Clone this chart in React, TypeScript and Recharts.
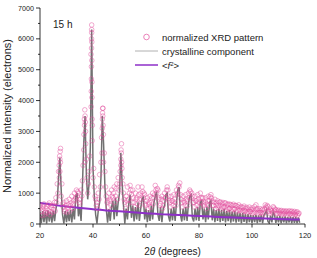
import React from 'react';
import { ComposedChart, Line, Scatter, XAxis, YAxis } from 'recharts';

// 2θ (deg), intensity — crystalline component (gray line)
const crystalline: [number, number][] = [
  [20, 380], [20.5, 30], [21, 420], [21.5, 60], [22, 400], [22.5, 20], [23, 440], [23.5, 80],
  [24, 390], [24.5, 40], [25, 430], [25.5, 90], [26, 480], [26.5, 700], [27, 1500], [27.5, 2150],
  [28, 1100], [28.5, 300], [29, 20], [29.5, 420], [30, 60], [30.5, 400], [31, 90], [31.5, 450],
  [32, 50], [32.5, 500], [33, 150], [33.5, 900], [34, 1000], [34.5, 250], [35, 550], [35.5, 100],
  [36, 1200], [36.5, 2600], [37, 3500], [37.5, 1600], [38, 800], [38.5, 1300], [39, 2500], [39.5, 6300],
  [40, 1800], [40.5, 900], [41, 300], [41.5, 20], [42, 450], [42.5, 700], [43, 1500], [43.5, 3500],
  [44, 2600], [44.5, 1200], [45, 500], [45.5, 40], [46, 480], [46.5, 100], [47, 550], [47.5, 750],
  [48, 150], [48.5, 850], [49, 250], [49.5, 700], [50, 1000], [50.5, 2300], [51, 1300], [51.5, 600],
  [52, 20], [52.5, 500], [53, 150], [53.5, 650], [54, 950], [54.5, 200], [55, 600], [55.5, 80],
  [56, 550], [56.5, 150], [57, 700], [57.5, 100], [58, 500], [58.5, 800], [59, 900], [59.5, 150],
  [60, 500], [60.5, 60], [61, 450], [61.5, 100], [62, 600], [62.5, 150], [63, 700], [63.5, 900],
  [64, 1050], [64.5, 300], [65, 100], [65.5, 550], [66, 60], [66.5, 500], [67, 600], [67.5, 950],
  [68, 1000], [68.5, 250], [69, 80], [69.5, 500], [70, 120], [70.5, 550], [71, 100], [71.5, 700],
  [72, 1100], [72.5, 1200], [73, 300], [73.5, 80], [74, 500], [74.5, 120], [75, 550], [75.5, 100],
  [76, 650], [76.5, 900], [77, 950], [77.5, 200], [78, 80], [78.5, 500], [79, 120], [79.5, 550],
  [80, 100], [80.5, 700], [81, 750], [81.5, 150], [82, 500], [82.5, 60], [83, 550], [83.5, 150],
  [84, 700], [84.5, 750], [85, 120], [85.5, 500], [86, 60], [86.5, 450], [87, 100], [87.5, 500],
  [88, 60], [88.5, 450], [89, 100], [89.5, 480], [90, 50], [90.5, 420], [91, 90], [91.5, 450],
  [92, 40], [92.5, 400], [93, 80], [93.5, 420], [94, 40], [94.5, 380], [95, 80], [95.5, 350],
  [96, 30], [96.5, 360], [97, 70], [97.5, 330], [98, 30], [98.5, 320], [99, 60], [99.5, 300],
  [100, 30], [100.5, 290], [101, 60], [101.5, 300], [102, 30], [102.5, 280], [103, 60], [103.5, 300],
  [104, 30], [104.5, 280], [105, 350], [105.5, 450], [106, 80], [106.5, 30], [107, 270], [107.5, 50],
  [108, 380], [108.5, 300], [109, 40], [109.5, 250], [110, 50], [110.5, 260], [111, 30], [111.5, 240],
  [112, 50], [112.5, 250], [113, 30], [113.5, 230], [114, 50], [114.5, 240], [115, 30], [115.5, 230],
  [116, 40], [116.5, 220], [117, 30], [117.5, 210], [118, 40],
];

// normalized XRD pattern (pink circles), first pass
const observed: [number, number][] = [
  [20.25, 520], [20.75, 280], [21.25, 560], [21.75, 300], [22.25, 500], [22.75, 360], [23.25, 620], [23.75, 300],
  [24.25, 540], [24.75, 380], [25.25, 600], [25.75, 420], [26.25, 700], [26.75, 1000], [27.25, 1900], [27.75, 2450],
  [28.25, 1300], [28.75, 550], [29.25, 400], [29.75, 600], [30.25, 380], [30.75, 620], [31.25, 420], [31.75, 680],
  [32.25, 500], [32.75, 750], [33.25, 800], [33.75, 1100], [34.25, 1050], [34.75, 700], [35.25, 800], [35.75, 900],
  [36.25, 1900], [36.75, 3400], [37.25, 2600], [37.75, 1500], [38.25, 1300], [38.75, 2200], [39.25, 5500], [39.75, 3200],
  [40.25, 1800], [40.75, 900], [41.25, 600], [41.75, 500], [42.25, 800], [42.75, 1200], [43.25, 2800], [43.75, 3750],
  [44.25, 2300], [44.75, 1200], [45.25, 700], [45.75, 550], [46.25, 750], [46.75, 600], [47.25, 900], [47.75, 1000],
  [48.25, 700], [48.75, 1150], [49.25, 800], [49.75, 1100], [50.25, 1700], [50.75, 2600], [51.25, 1300], [51.75, 800],
  [52.25, 500], [52.75, 750], [53.25, 650], [53.75, 1000], [54.25, 1100], [54.75, 700], [55.25, 850], [55.75, 550],
  [56.25, 800], [56.75, 650], [57.25, 950], [57.75, 600], [58.25, 800], [58.75, 1050], [59.25, 1000], [59.75, 650],
  [60.25, 750], [60.75, 500], [61.25, 700], [61.75, 550], [62.25, 850], [62.75, 650], [63.25, 950], [63.75, 1100],
  [64.25, 1150], [64.75, 800], [65.25, 600], [65.75, 800], [66.25, 500], [66.75, 750], [67.25, 850], [67.75, 1100],
  [68.25, 1100], [68.75, 750], [69.25, 550], [69.75, 750], [70.25, 600], [70.75, 800], [71.25, 600], [71.75, 950],
  [72.25, 1250], [72.75, 1330], [73.25, 800], [73.75, 550], [74.25, 750], [74.75, 600], [75.25, 800], [75.75, 600],
  [76.25, 850], [76.75, 1050], [77.25, 1000], [77.75, 700], [78.25, 550], [78.75, 750], [79.25, 600], [79.75, 800],
  [80.25, 550], [80.75, 850], [81.25, 840], [81.75, 650], [82.25, 700], [82.75, 500], [83.25, 750], [83.75, 600],
  [84.25, 880], [84.75, 840], [85.25, 600], [85.75, 700], [86.25, 500], [86.75, 680], [87.25, 520], [87.75, 700],
  [88.25, 480], [88.75, 650], [89.25, 520], [89.75, 680], [90.25, 450], [90.75, 620], [91.25, 480], [91.75, 640],
  [92.25, 420], [92.75, 600], [93.25, 470], [93.75, 600], [94.25, 400], [94.75, 560], [95.25, 450], [95.75, 540],
  [96.25, 380], [96.75, 530], [97.25, 420], [97.75, 500], [98.25, 350], [98.75, 480], [99.25, 400], [99.75, 470],
  [100.25, 340], [100.75, 460], [101.25, 380], [101.75, 470], [102.25, 330], [102.75, 440], [103.25, 370], [103.75, 450],
  [104.25, 320], [104.75, 480], [105.25, 550], [105.75, 600], [106.25, 420], [106.75, 340], [107.25, 430], [107.75, 360],
  [108.25, 520], [108.75, 480], [109.25, 330], [109.75, 420], [110.25, 340], [110.75, 420], [111.25, 300], [111.75, 400],
  [112.25, 330], [112.75, 410], [113.25, 290], [113.75, 390], [114.25, 320], [114.75, 400], [115.25, 280], [115.75, 380],
  [116.25, 300], [116.75, 370], [117.25, 280], [117.75, 350],
];

// normalized XRD pattern, in-between points
const observedMid: [number, number][] = [
  [20, 600], [20.5, 420], [21, 480], [21.5, 650], [22, 380], [22.5, 560], [23, 450], [23.5, 680],
  [24, 400], [24.5, 600], [25, 470], [25.5, 700], [26, 850], [26.5, 1300], [27, 1700], [27.5, 2100],
  [28, 900], [28.5, 650], [29, 700], [29.5, 450], [30, 750], [30.5, 520], [31, 800], [31.5, 600],
  [32, 900], [32.5, 650], [33, 1000], [33.5, 850], [34, 900], [34.5, 1000], [35, 650], [35.5, 1100],
  [36, 1400], [36.5, 2400], [37, 2000], [37.5, 2100], [38, 1000], [38.5, 1700], [40, 1500], [40.5, 1200],
  [41, 800], [41.5, 700], [42, 1000], [42.5, 1600], [43, 2000], [44, 2000], [44.5, 1700], [45, 900],
  [45.5, 750], [46, 1000], [46.5, 800], [47, 1100], [47.5, 850], [48, 1200], [48.5, 900], [49, 1300],
  [49.5, 1500], [50, 1300], [50.5, 1900], [51, 1500], [51.5, 1000], [52, 700], [52.5, 900], [53, 1200],
  [53.5, 800], [54, 1250], [54.5, 950], [55, 1100], [55.5, 700], [56, 1000], [56.5, 850], [57, 1200],
  [57.5, 800], [58, 1000], [58.5, 1200], [59, 850], [59.5, 950], [60, 600], [60.5, 850], [61, 650],
  [61.5, 900], [62, 700], [62.5, 1000], [63, 850], [63.5, 1250], [64, 1000], [64.5, 1100], [65, 850],
  [65.5, 650], [66, 900], [66.5, 600], [67, 1000], [67.5, 850], [68, 1200], [68.5, 900], [69, 700],
  [69.5, 900], [70, 750], [70.5, 950], [71, 700], [71.5, 1100], [72, 1000], [72.5, 1200], [73, 950],
  [73.5, 700], [74, 900], [74.5, 700], [75, 950], [75.5, 750], [76, 1000], [76.5, 1100], [77, 850],
  [77.5, 900], [78, 700], [78.5, 900], [79, 750], [79.5, 950], [80, 700], [80.5, 1000], [81, 700],
  [81.5, 850], [82, 600], [82.5, 850], [83, 650], [83.5, 900], [84, 750], [84.5, 950], [85, 750],
  [85.5, 600], [86, 800], [86.5, 600], [87, 750], [87.5, 600], [88, 720], [88.5, 550], [89, 700],
  [89.5, 560], [90, 680], [90.5, 520], [91, 650], [91.5, 500], [92, 620], [92.5, 480], [93, 640],
  [93.5, 500], [94, 600], [94.5, 450], [95, 620], [95.5, 450], [96, 560], [96.5, 430], [97, 580],
  [97.5, 420], [98, 540], [98.5, 400], [99, 550], [99.5, 400], [100, 520], [100.5, 380], [101, 560],
  [101.5, 620], [102, 500], [102.5, 380], [103, 500], [103.5, 360], [104, 480], [104.5, 380], [105, 620],
  [105.5, 520], [106, 560], [106.5, 400], [107, 480], [107.5, 420], [108, 560], [108.5, 420], [109, 460],
  [109.5, 350], [110, 450], [110.5, 360], [111, 440], [111.5, 340], [112, 430], [112.5, 360], [113, 420],
  [113.5, 340], [114, 430], [114.5, 330], [115, 420], [115.5, 340], [116, 410], [116.5, 320], [117, 400],
  [117.5, 330],
];

// extra measured points stacked on the steep peaks
const peakObserved: [number, number][] = [
  [27.3, 1500], [27.4, 2200], [27.5, 1700], [27.6, 2350], [27.7, 2000],
  [36.6, 2900], [36.8, 3200], [36.9, 3700], [37.0, 3500], [37.1, 3300], [37.2, 3000],
  [39.3, 3800], [39.35, 4300], [39.4, 4700], [39.4, 5100], [39.45, 5700], [39.45, 6000], [39.5, 6300],
  [39.5, 6450], [39.5, 6200], [39.55, 5900], [39.55, 5300], [39.6, 4600], [39.6, 4100], [39.65, 3400], [39.7, 2700],
  [43.4, 2300], [43.5, 3100], [43.55, 3400], [43.6, 3600], [43.65, 3750], [43.7, 3500], [43.8, 3200], [43.9, 2900],
  [50.5, 2100], [50.6, 2400], [50.7, 2300], [50.8, 2000], [50.9, 1800],
];

// <f^2> curve
const fSquared: [number, number][] = [
  [20, 680], [25, 620], [30, 570], [35, 520], [40, 480], [45, 440], [50, 410], [55, 380], [60, 350],
  [65, 320], [70, 300], [75, 280], [80, 260], [85, 240], [90, 220], [95, 205], [100, 190], [105, 175],
  [110, 160], [118, 145],
];

const xTicks = [20, 30, 40, 50, 60, 70, 80, 90, 100, 110, 120];
const yTicks = [0, 500, 1000, 1500, 2000, 2500, 3000, 3500, 4000, 4500, 5000, 5500, 6000, 6500, 7000];

const FONT = '"Liberation Sans", Arial, sans-serif';
const PINK = '#e2509e';
const GRAY = '#717171';
const PURPLE = '#8e2fc8';

const toRows = (pts: [number, number][]) => pts.map(([x, y]) => ({ x, y }));
const crystData = toRows(crystalline);
const obsData = toRows([...observed, ...observedMid, ...peakObserved]);
const fData = toRows(fSquared);

function XTick(props: any) {
  const { x, y, payload } = props;
  const major = payload.value % 20 === 0;
  return (
    <g>
      <line x1={x} x2={x} y1={y} y2={y + (major ? 3.5 : 2)} stroke="#000" strokeWidth={0.8} />
      {major && (
        <text x={x} y={y + 14} textAnchor="middle" fontSize={7.5} fill="#222" fontFamily={FONT}>
          {payload.value}
        </text>
      )}
    </g>
  );
}

function YTick(props: any) {
  const { x, y, payload } = props;
  const major = payload.value % 1000 === 0;
  return (
    <g>
      <line x1={x} x2={x - (major ? 4 : 2)} y1={y} y2={y} stroke="#000" strokeWidth={0.8} />
      {major && (
        <text x={x - 6} y={y + 2.6} textAnchor="end" fontSize={7.2} fill="#222" fontFamily={FONT}>
          {payload.value}
        </text>
      )}
    </g>
  );
}

function XLabel(props: any) {
  const vb = props.viewBox || { x: 40, y: 224, width: 265, height: 34 };
  return (
    <text x={vb.x + vb.width / 2} y={255} textAnchor="middle" fontSize={10} fill="#222" fontFamily={FONT}>
      2<tspan fontStyle="italic">θ</tspan> (degrees)
    </text>
  );
}

function YLabel(props: any) {
  const vb = props.viewBox || { x: 0, y: 8, width: 40, height: 216 };
  const cy = vb.y + vb.height / 2;
  return (
    <text
      x={11}
      y={cy}
      transform={`rotate(-90 11 ${cy})`}
      textAnchor="middle"
      fontSize={11}
      fill="#222"
      fontFamily={FONT}
    >
      Normalized intensity (electrons)
    </text>
  );
}

const circleShape = (p: any) => (
  <circle cx={p.cx} cy={p.cy} r={2.3} fill="none" stroke={PINK} strokeWidth={0.6} strokeOpacity={0.8} />
);

const legendRow: React.CSSProperties = {
  position: 'absolute',
  left: 0,
  height: 14,
  display: 'flex',
  alignItems: 'center',
  fontSize: 9.5,
  color: '#222',
  whiteSpace: 'nowrap',
};

export default function App() {
  return (
    <div
      style={{
        position: 'fixed',
        left: 0,
        top: 0,
        width: 317,
        height: 258,
        background: '#fff',
        fontFamily: FONT,
      }}
    >
      <ComposedChart width={317} height={258} margin={{ top: 8, right: 12, bottom: 0, left: 0 }}>
        <XAxis
          dataKey="x"
          type="number"
          domain={[20, 120]}
          ticks={xTicks}
          interval={0}
          allowDataOverflow
          height={34}
          tickSize={0}
          tickMargin={0}
          tickLine={false}
          tick={<XTick />}
          axisLine={{ stroke: '#000', strokeWidth: 0.8 }}
          label={<XLabel />}
        />
        <XAxis
          xAxisId="top"
          orientation="top"
          type="number"
          domain={[20, 120]}
          height={0}
          tick={false}
          tickLine={false}
          axisLine={{ stroke: '#000', strokeWidth: 0.8 }}
        />
        <YAxis
          type="number"
          domain={[0, 7000]}
          ticks={yTicks}
          interval={0}
          allowDataOverflow
          width={40}
          tickSize={0}
          tickMargin={0}
          tickLine={false}
          tick={<YTick />}
          axisLine={{ stroke: '#000', strokeWidth: 0.8 }}
          label={<YLabel />}
        />
        <YAxis
          yAxisId="right"
          orientation="right"
          type="number"
          domain={[0, 7000]}
          width={0}
          tick={false}
          tickLine={false}
          axisLine={{ stroke: '#000', strokeWidth: 0.8 }}
        />
        <Scatter data={obsData} dataKey="y" shape={circleShape} isAnimationActive={false} />
        <Line
          data={crystData}
          dataKey="y"
          type="linear"
          stroke={GRAY}
          strokeWidth={1.5}
          dot={false}
          activeDot={false}
          isAnimationActive={false}
        />
        <Line
          data={fData}
          dataKey="y"
          type="monotone"
          stroke={PURPLE}
          strokeWidth={2}
          dot={false}
          activeDot={false}
          isAnimationActive={false}
        />
      </ComposedChart>

      <div style={{ position: 'absolute', left: 53, top: 19, fontSize: 10, lineHeight: '12px', color: '#222' }}>
        15 h
      </div>

      <div style={{ position: 'absolute', left: 135, top: 30, width: 180, height: 42 }}>
        <div style={{ ...legendRow, top: 0 }}>
          <svg width={23} height={14} style={{ marginRight: 4 }}>
            <circle cx={11.5} cy={7} r={2.8} fill="none" stroke={PINK} strokeWidth={0.7} />
          </svg>
          normalized XRD pattern
        </div>
        <div style={{ ...legendRow, top: 14 }}>
          <svg width={23} height={14} style={{ marginRight: 4 }}>
            <line x1={0} x2={23} y1={7} y2={7} stroke="#b0b0b0" strokeWidth={1} />
          </svg>
          crystalline component
        </div>
        <div style={{ ...legendRow, top: 28 }}>
          <svg width={23} height={14} style={{ marginRight: 4 }}>
            <line x1={0} x2={23} y1={7} y2={7} stroke={PURPLE} strokeWidth={1.5} />
          </svg>
          &lt;<i>f</i>
          <sup style={{ fontSize: 6, position: 'relative', top: -1 }}>2</sup>&gt;
        </div>
      </div>
    </div>
  );
}
